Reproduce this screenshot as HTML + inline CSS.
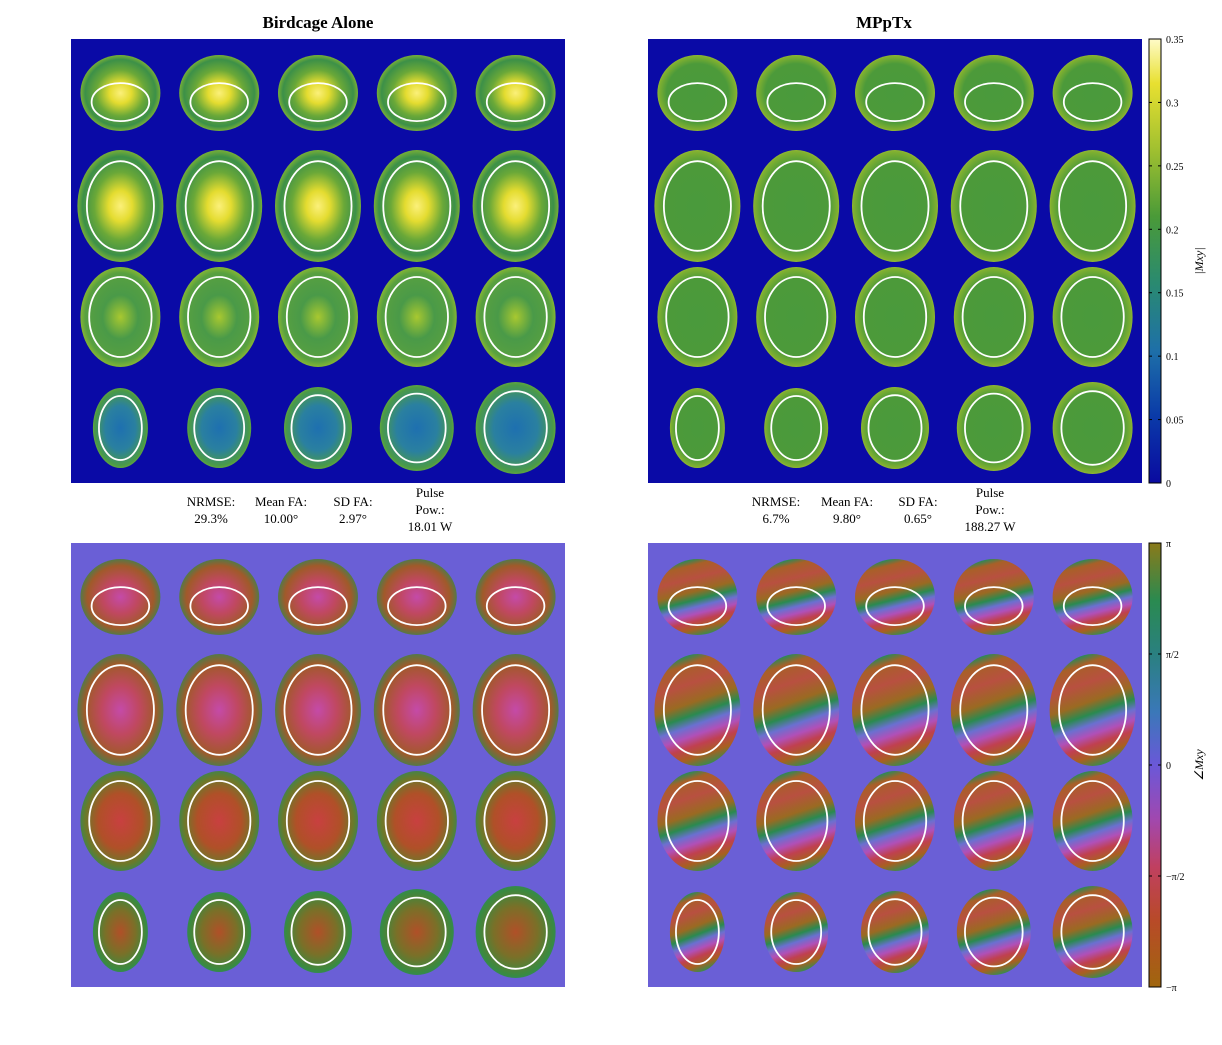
<!DOCTYPE html>
<html><head><meta charset="utf-8"><style>
body{margin:0;background:#fff;}
svg{display:block;font-family:"Liberation Serif",serif;}
</style></head><body>
<svg id="fig" width="1222" height="1045" viewBox="0 0 1222 1045" xmlns="http://www.w3.org/2000/svg">
<defs>
<radialGradient id="gTL1" cx="50%" cy="50%" r="55%"><stop offset="0" stop-color="#fbf07a"/><stop offset="0.25" stop-color="#e4dc30"/><stop offset="0.55" stop-color="#6aa838"/><stop offset="0.8" stop-color="#3c9048"/><stop offset="1" stop-color="#a8c82a"/></radialGradient>
<radialGradient id="gTL3" cx="50%" cy="50%" r="55%"><stop offset="0" stop-color="#a8c830"/><stop offset="0.4" stop-color="#4a9a48"/><stop offset="0.8" stop-color="#58a040"/><stop offset="1" stop-color="#a8c82a"/></radialGradient>
<radialGradient id="gTL4" cx="50%" cy="50%" r="55%"><stop offset="0" stop-color="#1e70b0"/><stop offset="0.5" stop-color="#2a80a0"/><stop offset="0.85" stop-color="#4a9a48"/><stop offset="1" stop-color="#80b830"/></radialGradient>
<radialGradient id="gTR" cx="50%" cy="50%" r="55%"><stop offset="0" stop-color="#4a9a3c"/><stop offset="0.7" stop-color="#4c9a3a"/><stop offset="0.88" stop-color="#80b030"/><stop offset="1" stop-color="#d0d440"/></radialGradient>
<radialGradient id="gBL1" cx="50%" cy="50%" r="55%"><stop offset="0" stop-color="#c44aa8"/><stop offset="0.4" stop-color="#c04860"/><stop offset="0.75" stop-color="#a05a2a"/><stop offset="1" stop-color="#2a8a58"/></radialGradient>
<radialGradient id="gBL3" cx="50%" cy="50%" r="55%"><stop offset="0" stop-color="#c84040"/><stop offset="0.5" stop-color="#b05028"/><stop offset="0.8" stop-color="#6a7a2a"/><stop offset="1" stop-color="#2a8a60"/></radialGradient>
<radialGradient id="gBL4" cx="50%" cy="50%" r="55%"><stop offset="0" stop-color="#b05028"/><stop offset="0.5" stop-color="#7a7028"/><stop offset="0.85" stop-color="#3a8a40"/><stop offset="1" stop-color="#2a8a68"/></radialGradient>
<linearGradient id="gBR" x1="0.5" y1="0" x2="0.5" y2="1" gradientTransform="rotate(-15 0.5 0.5)">
<stop offset="0" stop-color="#2a8a58"/><stop offset="0.08" stop-color="#a86028"/><stop offset="0.25" stop-color="#b85040"/><stop offset="0.42" stop-color="#9a6a22"/><stop offset="0.53" stop-color="#2a8a50"/><stop offset="0.62" stop-color="#6a70d0"/><stop offset="0.71" stop-color="#b050b8"/><stop offset="0.8" stop-color="#c04050"/><stop offset="0.9" stop-color="#a86020"/><stop offset="1" stop-color="#3a8a50"/></linearGradient>
<linearGradient id="cbTop" x1="0" y1="1" x2="0" y2="0"><stop offset="0" stop-color="#0a0aa0"/><stop offset="0.15" stop-color="#0a3aa8"/><stop offset="0.3" stop-color="#1e70a8"/><stop offset="0.45" stop-color="#2a8a70"/><stop offset="0.6" stop-color="#4a9a38"/><stop offset="0.75" stop-color="#a0c030"/><stop offset="0.9" stop-color="#e8e030"/><stop offset="1" stop-color="#fffbc8"/></linearGradient>
<linearGradient id="cbBot" x1="0" y1="1" x2="0" y2="0"><stop offset="0" stop-color="#a0660e"/><stop offset="0.15" stop-color="#b84a28"/><stop offset="0.27" stop-color="#c04060"/><stop offset="0.38" stop-color="#a048b0"/><stop offset="0.5" stop-color="#6a58d8"/><stop offset="0.62" stop-color="#3a78b8"/><stop offset="0.75" stop-color="#2a8080"/><stop offset="0.87" stop-color="#2a8a50"/><stop offset="1" stop-color="#8a7a1a"/></linearGradient>
</defs>
</svg>
<script>
const statsLeft = ["29.3%","10.00°","2.97°","18.01 W"];
const statsRight = ["6.7%","9.80°","0.65°","188.27 W"];
const magTicks = ["0","0.05","0.1","0.15","0.2","0.25","0.3","0.35"];
const phaseTicks = ["−π","−π/2","0","π/2","π"];
const rowW = [80, 86, 80, 0];
const rowH = [76, 112, 100, 0];
const row4W = [55, 64, 68, 74, 80];
const row4H = [80, 80, 82, 86, 92];

const NS = "http://www.w3.org/2000/svg";
const svg = document.getElementById("fig");
function mk(tag, attrs, parent){
  const e = document.createElementNS(NS, tag);
  for (const k in attrs) e.setAttribute(k, attrs[k]);
  (parent||svg).appendChild(e);
  return e;
}
function txt(x,y,s,size,anchor,weight){
  const t = mk("text",{x:x,y:y,"font-size":size,"text-anchor":anchor||"middle","font-weight":weight||"normal",fill:"#000"});
  t.textContent = s;
  return t;
}
const panels = [
  {x:71,y:39,bg:"#0a0aa6",name:"magnitude-birdcage",fills:["gTL1","gTL1","gTL3","gTL4"]},
  {x:648,y:39,bg:"#0a0aa6",name:"magnitude-mpptx",fills:["gTR","gTR","gTR","gTR"]},
  {x:71,y:543,bg:"#6a5fd6",name:"phase-birdcage",fills:["gBL1","gBL1","gBL3","gBL4"]},
  {x:648,y:543,bg:"#6a5fd6",name:"phase-mpptx",fills:["gBR","gBR","gBR","gBR"]}
];
panels.forEach(p=>{
  const g = mk("g",{});
  
  
  mk("rect",{x:p.x,y:p.y,width:494,height:444,fill:p.bg},g);
  for(let r=0;r<4;r++){
    for(let c=0;c<5;c++){
      const cx = p.x + 49.4 + 98.8*c;
      const cy = p.y + 56 + 111*r + (r===0?-2:0);
      const w = r===3 ? row4W[c] : rowW[r];
      const h = r===3 ? row4H[c] : rowH[r];
      const e = mk("ellipse",{cx:cx,cy:cy,rx:w/2,ry:h/2,fill:"url(#"+p.fills[r]+")"},g);
      
      
      const ix = r===0 ? 0.72 : 0.78, iy = r===0 ? 0.5 : 0.8;
      const o = mk("ellipse",{cx:cx,cy:cy+(r===0?h*0.12:0),rx:w/2*ix,ry:h/2*iy,fill:"none",stroke:"#fff","stroke-width":1.8},g);
      
      
    }
  }
});
let t1 = txt(318,28,"Birdcage Alone",17,"middle","bold");


let t2 = txt(884,28,"MPpTx",17,"middle","bold");



function stats(xs, vals, name){
  const g = mk("g",{});
  
  
  const labs = ["NRMSE:","Mean FA:","SD FA:"];
  for(let i=0;i<3;i++){
    g.appendChild(txt(xs[i],506,labs[i],13));
    g.appendChild(txt(xs[i],523,vals[i],13));
  }
  [["Pulse",497],["Pow.:",514],[vals[3],531]].forEach(([s,y])=>{g.appendChild(txt(xs[3],y,s,13));});
}
stats([211,281,353,430], statsLeft, "stats-birdcage");
stats([776,847,918,990], statsRight, "stats-mpptx");

function colorbar(y0, fill, ticks, name, label, fracs){
  const g = mk("g",{});
  
  
  mk("rect",{x:1149,y:y0,width:12,height:444,fill:fill,stroke:"#000","stroke-width":1},g);
  ticks.forEach((s,i)=>{
    const y = y0+444 - 444*fracs[i];
    mk("line",{x1:1149,x2:1152,y1:y,y2:y,stroke:"#000"},g);
    mk("line",{x1:1158,x2:1161,y1:y,y2:y,stroke:"#000"},g);
    g.appendChild(txt(1166,y+4,s,10,"start"));
  });
  const L = txt(0,0,label,12); g.appendChild(L);
  L.setAttribute("transform","translate(1203,"+(y0+222)+") rotate(-90)");
  L.setAttribute("font-style","italic");
}
colorbar(39,"url(#cbTop)",magTicks,"colorbar-magnitude","|Mxy|",magTicks.map((_,i)=>i/(magTicks.length-1)));
colorbar(543,"url(#cbBot)",phaseTicks,"colorbar-phase","∠Mxy",phaseTicks.map((_,i)=>i/(phaseTicks.length-1)));
</script>
</body></html>
